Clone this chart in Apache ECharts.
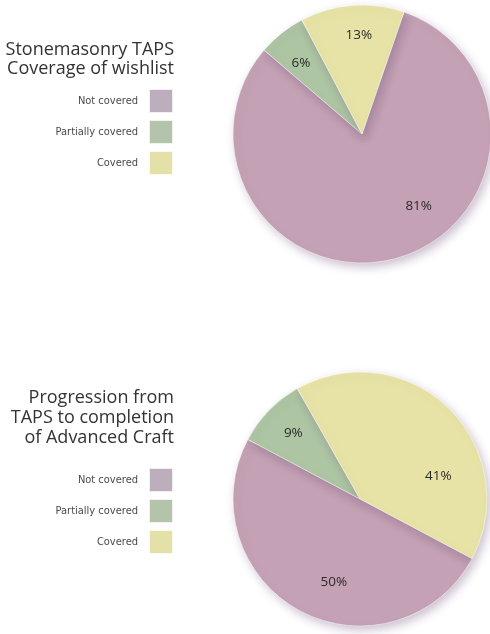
<!DOCTYPE html>
<html>
<head>
<meta charset="utf-8">
<script src="https://cdn.jsdelivr.net/npm/echarts@6/dist/echarts.min.js"></script>
<style>
  html, body { margin: 0; padding: 0; background: #fff; }
  #chart { width: 490px; height: 634px; }
</style>
</head>
<body>
<div id="chart"></div>
<script>
  // data
  var categories = ["Not covered", "Partially covered", "Covered"];
  var wishlistValues = [81, 6, 13];
  var progressionValues = [50, 9, 41];
  var titles = ["Stonemasonry TAPS\nCoverage of wishlist", "Progression from\nTAPS to completion\nof Advanced Craft"];

  var sliceColors = ["#c4a1b4", "#adc5a3", "#e7e3a6"];
  var swatchColors = ["#bdaebe", "#b4c4ab", "#e3e0a8"];

  // per-slice label nudges (outward from the inside default)
  var labelOffsets1 = [[39, 7], [-19, -18], [2, -32]];
  var labelOffsets2 = [[5, 24], [-19, -19], [32, 25]];

  var chart = echarts.init(document.getElementById("chart"));

  function pieData(values, offsets) {
    return categories.map(function (name, i) {
      return {
        name: name,
        value: values[i],
        itemStyle: { color: sliceColors[i] },
        label: { offset: offsets[i] }
      };
    });
  }

  function pieSeries(values, offsets, center, radius, startAngle) {
    return {
      type: "pie",
      center: center,
      radius: radius,
      startAngle: startAngle,
      clockwise: true,
      silent: true,
      data: pieData(values, offsets),
      label: {
        position: "inside",
        formatter: "{c}%",
        fontFamily: "Open Sans",
        fontSize: 13.5,
        color: "#2a2a2a"
      },
      labelLine: { show: false },
      itemStyle: {
        borderColor: "rgba(255,255,255,0.8)",
        borderWidth: 0.6,
        shadowBlur: 10,
        shadowOffsetX: 3,
        shadowOffsetY: 4,
        shadowColor: "rgba(110,80,120,0.35)"
      },
      emphasis: { disabled: true }
    };
  }

  function legend(top) {
    return {
      orient: "vertical",
      right: 311,
      top: top,
      align: "right",
      icon: "rect",
      itemWidth: 24,
      itemHeight: 24,
      itemGap: 5,
      selectedMode: false,
      data: categories.map(function (name, i) {
        return { name: name, itemStyle: { color: swatchColors[i] } };
      }),
      textStyle: {
        fontFamily: "DejaVu Sans Condensed",
        fontSize: 11,
        color: "#4a4a4a",
        padding: [0, 6, 0, 0]
      }
    };
  }

  var titleStyle1 = {
    fontFamily: "Open Sans",
    fontSize: 18,
    fontWeight: "normal",
    color: "#333",
    lineHeight: 18.5
  };
  var titleStyle2 = {
    fontFamily: "Open Sans",
    fontSize: 18,
    fontWeight: "normal",
    color: "#333",
    lineHeight: 20
  };

  chart.setOption({
    animation: false,
    title: [
      { text: titles[0], left: 169, top: 36, textAlign: "right", textStyle: titleStyle1 },
      { text: titles[1], left: 169, top: 383, textAlign: "right", textStyle: titleStyle2 }
    ],
    legend: [legend(83), legend(462)],
    series: [
      pieSeries(wishlistValues, labelOffsets1, [362, 134], 129, 71),
      pieSeries(progressionValues, labelOffsets2, [360, 499], 127, -28)
    ]
  });
</script>
</body>
</html>
